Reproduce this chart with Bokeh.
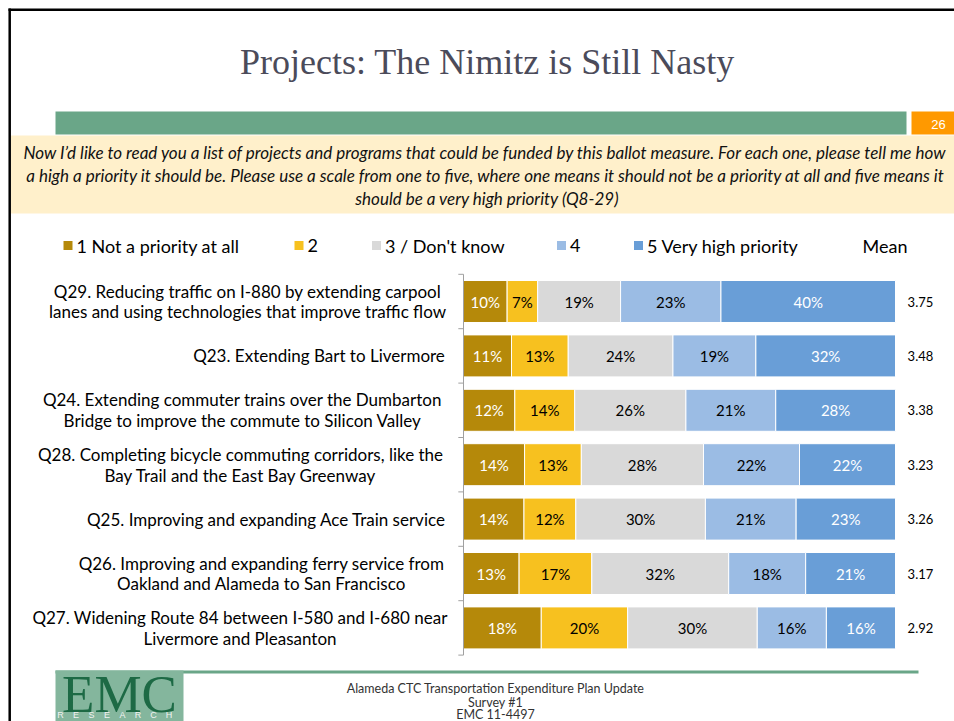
from bokeh.plotting import figure
from bokeh.models import Range1d, ColumnDataSource
from bokeh.core.properties import value
from bokeh.embed import file_html
from bokeh.resources import INLINE

# ---------------- data ----------------
questions = [
    ["Q29. Reducing traffic on I-880 by extending carpool", "lanes and using technologies that improve traffic flow"],
    ["Q23. Extending Bart to Livermore"],
    ["Q24. Extending commuter trains over the Dumbarton", "Bridge to improve the commute to Silicon Valley"],
    ["Q28. Completing bicycle commuting corridors, like the", "Bay Trail and the East Bay Greenway"],
    ["Q25. Improving and expanding Ace Train service"],
    ["Q26. Improving and expanding ferry service from", "Oakland and Alameda to San Francisco"],
    ["Q27. Widening Route 84 between I-580 and I-680 near", "Livermore and Pleasanton"],
]
not_priority = [10, 11, 12, 14, 14, 13, 18]
two = [7, 13, 14, 13, 12, 17, 20]
three_dk = [19, 24, 26, 28, 30, 32, 30]
four = [23, 19, 21, 22, 21, 18, 16]
very_high = [40, 32, 28, 22, 23, 21, 16]
means = [3.75, 3.48, 3.38, 3.23, 3.26, 3.17, 2.92]
legend_labels = ["1 Not a priority at all", "2", "3 / Don't know", "4", "5 Very high priority"]
mean_label = "Mean"

title_text = "Projects: The Nimitz is Still Nasty"
slide_no = "26"
intro_lines = [
    "Now I\u2019d like to read you a list of projects and programs that could be funded by this ballot measure.  For each one, please tell me how",
    "a high a priority it should be.  Please use a scale from one to five, where one means it should not be a priority at all and five means it",
    "should be a very high priority (Q8-29)",
]
footer_lines = ["Alameda CTC Transportation Expenditure Plan Update", "Survey #1", "EMC 11-4497"]

# ---------------- layout / style ----------------
W, H = 954, 721
BAR_L, BAR_R = 463, 895
ROW0, PITCH = 301, 54.4
BAR_H = 0.772
FONT = "Lato"
colors = ["#B5890A", "#F7C11F", "#D9D9D9", "#9BBCE4", "#699ED7"]
text_colors = ["white", "black", "black", "black", "white"]
label_centers = [247, 318.5, 242, 240, 266, 261, 239.5]
legend_sq_x = [67.5, 298.5, 376, 561, 638]
legend_y = 245
mean_x = 862
green = "#6AA688"

p = figure(width=W, height=H, x_range=Range1d(0, W), y_range=Range1d(H, 0),
           output_backend="svg", toolbar_location=None, min_border=0,
           x_axis_type=None, y_axis_type=None)
p.outline_line_color = None
p.background_fill_color = "white"
p.border_fill_color = "white"

px_per_pct = (BAR_R - BAR_L) / 100.0
p.extra_x_ranges = {"pct": Range1d(-BAR_L / px_per_pct, (W - BAR_L) / px_per_pct)}
p.extra_y_ranges = {"cat": Range1d((H - ROW0) / PITCH, -ROW0 / PITCH)}

# slide border (top & left)
p.segment(x0=[8, 9.2], y0=[9.2, 8], x1=[W + 5, 9.2], y1=[9.2, H + 5], line_color="black", line_width=2.5)

# title
p.text(x=[487], y=[61], text=[title_text], text_align="center", text_baseline="middle",
       text_font=value("Liberation Serif"), text_font_size="36px", text_color="#4B4B5A")

# green band and orange page number
p.quad(left=[55], right=[906], top=[111], bottom=[134], fill_color=green, line_color=None)
p.quad(left=[911], right=[W + 5], top=[111], bottom=[134], fill_color="#FF9900", line_color=None)
p.text(x=[938], y=[123.5], text=[slide_no], text_align="center", text_baseline="middle",
       text_font=value("Liberation Sans"), text_font_size="13px", text_color="white")

# cream question box
p.quad(left=[10.5], right=[W + 5], top=[135], bottom=[213], fill_color="#FFF0CB", line_color=None)
p.text(x=[487, 487, 487], y=[152, 175, 198], text=intro_lines, text_align="center", text_baseline="middle",
       text_font=value(FONT), text_font_style="italic", text_font_size="17px", text_color="#111111")

# legend
for k, lab in enumerate(legend_labels):
    p.rect(x=[legend_sq_x[k]], y=[legend_y], width=9, height=9, fill_color=colors[k], line_color=None)
    p.text(x=[legend_sq_x[k] + 8.5], y=[legend_y], text=[lab], text_align="left", text_baseline="middle",
           text_font=value(FONT), text_font_size="18px", text_color="black")
p.text(x=[mean_x], y=[legend_y], text=[mean_label], text_align="left", text_baseline="middle",
       text_font=value(FONT), text_font_size="18px", text_color="black")

# stacked bars
series = [not_priority, two, three_dk, four, very_high]
n = len(questions)
idx = list(range(n))
totals = [sum(vals) for vals in zip(*series)]
cum = [0] * n
for k, vals in enumerate(series):
    left = [c / t * 100 for c, t in zip(cum, totals)]
    cum = [c + v for c, v in zip(cum, vals)]
    right = [c / t * 100 for c, t in zip(cum, totals)]
    src = ColumnDataSource(dict(y=idx, left=left, right=right,
                                mid=[(a + b) / 2 for a, b in zip(left, right)],
                                lab=[f"{v}%" for v in vals]))
    p.hbar(y="y", left="left", right="right", height=BAR_H, source=src, fill_color=colors[k],
           line_color="white", line_width=1, x_range_name="pct", y_range_name="cat")
    p.text(x="mid", y="y", text="lab", source=src, text_align="center", text_baseline="middle",
           text_font=value(FONT), text_font_size="15px", text_color=text_colors[k],
           x_range_name="pct", y_range_name="cat")

# category axis line and ticks
p.segment(x0=[0], y0=[-0.5], x1=[0], y1=[n - 0.5], line_color="#A0A0A0", line_width=1,
          x_range_name="pct", y_range_name="cat")
tick_y = [k - 0.5 for k in range(n + 1)]
p.segment(x0=[-1.2] * (n + 1), y0=tick_y, x1=[0] * (n + 1), y1=tick_y, line_color="#A0A0A0",
          line_width=1, x_range_name="pct", y_range_name="cat")

# mean values
msrc = ColumnDataSource(dict(y=idx, x=[102.8] * n, m=[f"{m:.2f}" for m in means]))
p.text(x="x", y="y", text="m", source=msrc, text_align="left", text_baseline="middle",
       text_font=value(FONT), text_font_size="13px", text_color="black",
       x_range_name="pct", y_range_name="cat")

# category labels
lx, ly, lt = [], [], []
for i, lines in enumerate(questions):
    offs = [0] if len(lines) == 1 else [-0.193, 0.193]
    for o, t in zip(offs, lines):
        lx.append(label_centers[i])
        ly.append(i + o)
        lt.append(t)
p.text(x=lx, y=ly, text=lt, text_align="center", text_baseline="middle",
       text_font=value(FONT), text_font_size="17px", text_color="black", y_range_name="cat")

# footer
p.segment(x0=[55], y0=[671.5], x1=[918], y1=[671.5], line_color=green, line_width=3)
p.quad(left=[55], right=[183], top=[670], bottom=[H + 5], fill_color="#84B69D", line_color=None)
p.text(x=[119], y=[693], text=["EMC"], text_align="center", text_baseline="middle",
       text_font=value("Liberation Serif"), text_font_size="53px", text_color="#1D6A45")
p.text(x=[60 + 15.5 * j for j in range(8)], y=[714] * 8, text=list("RESEARCH"),
       text_align="center", text_baseline="middle",
       text_font=value("Liberation Sans"), text_font_size="9px", text_color="#F2F2F2")
p.text(x=[495, 495, 495], y=[688, 702, 714], text=footer_lines, text_align="center", text_baseline="middle",
       text_font=value(FONT), text_font_size="12.5px", text_color="#333333")

open("out.html", "w").write(file_html(p, INLINE))
